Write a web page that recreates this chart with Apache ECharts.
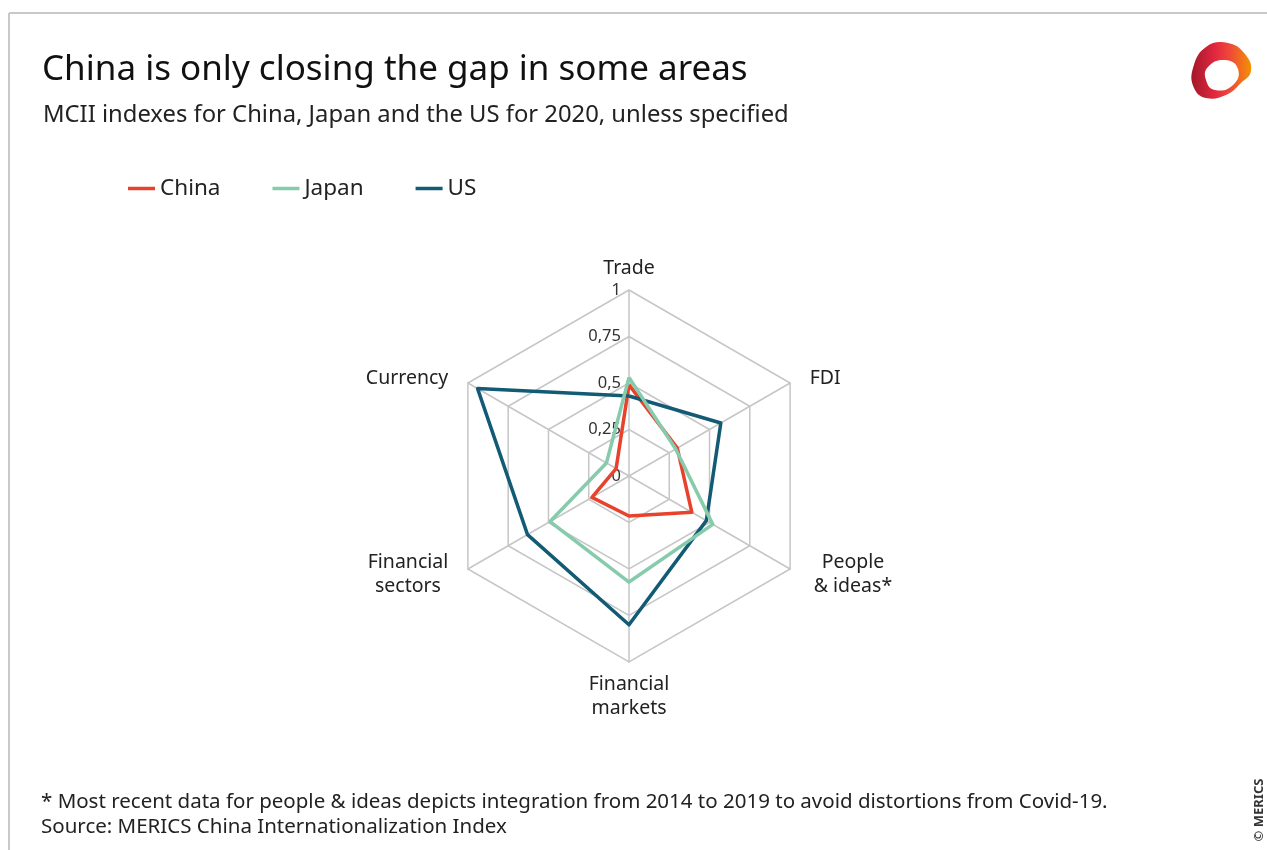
<!DOCTYPE html>
<html>
<head>
<meta charset="utf-8">
<script src="https://cdn.jsdelivr.net/npm/echarts@6/dist/echarts.min.js"></script>
<style>
html,body{margin:0;padding:0;background:#fff;}
#chart{width:1267px;height:850px;}
</style>
</head>
<body>
<div id="chart"></div>
<script>
// Data
const indicatorNames = ['Trade', 'Currency', 'Financial\nsectors', 'Financial\nmarkets', 'People\n& ideas*', 'FDI'];
const seriesNames = ['China', 'Japan', 'US'];
const china = [0.49, 0.08, 0.23, 0.215, 0.39, 0.30];
const japan = [0.53, 0.14, 0.49, 0.57, 0.52, 0.29];
const us    = [0.43, 0.94, 0.63, 0.80, 0.48, 0.57];
const tickValues = [0, 0.25, 0.5, 0.75, 1];

const FONT = '"Noto Sans", "Open Sans", sans-serif';
const colors = {China: '#e8412c', Japan: '#86cbab', US: '#135a74'};
const center = [629, 476];
const R = 186;

const chart = echarts.init(document.getElementById('chart'), null, {renderer: 'canvas'});

function mkSeries(name, values, z) {
  return {
    type: 'radar',
    name: name,
    z: z,
    symbol: 'none',
    lineStyle: {color: colors[name], width: 3.5},
    itemStyle: {color: colors[name]},
    data: [{value: values, name: name}]
  };
}

// per-label style keys (text offsets only)
const nameStyleKey = {
  'Trade': 'tr', 'Currency': 'cu', 'Financial\nsectors': 'fs',
  'Financial\nmarkets': 'fm', 'People\n& ideas*': 'pi', 'FDI': 'fd'
};
const baseName = {color: '#222', fontFamily: FONT, fontSize: 19.5, lineHeight: 24};

const option = {
  backgroundColor: '#fff',
  animation: false,
  textStyle: {fontFamily: FONT},
  title: [
    {text: 'China is only closing the gap in some areas', left: 37, top: 48,
     textStyle: {fontFamily: FONT, fontSize: 35, fontWeight: 'normal', color: '#111'}},
    {text: 'MCII indexes for China, Japan and the US for 2020, unless specified', left: 38, top: 98,
     textStyle: {fontFamily: FONT, fontSize: 23.8, fontWeight: 'normal', color: '#222'}},
    {text: '* Most recent data for people & ideas depicts integration from 2014 to 2019 to avoid distortions from Covid-19.\nSource: MERICS China Internationalization Index',
     left: 36, top: 785,
     textStyle: {fontFamily: FONT, fontSize: 20.5, fontWeight: 'normal', color: '#222', lineHeight: 25}}
  ],
  legend: {
    data: seriesNames,
    left: 123, top: 172,
    icon: 'rect', itemWidth: 27, itemHeight: 3.5, itemGap: 52,
    textStyle: {fontFamily: FONT, fontSize: 22.5, color: '#222'}
  },
  radar: {
    center: center,
    radius: R,
    startAngle: 90,
    splitNumber: 4,
    shape: 'polygon',
    indicator: indicatorNames.map(n => ({name: n, min: 0, max: 1})),
    axisName: Object.assign({}, baseName, {
      formatter: function (name) {
        const k = nameStyleKey[name];
        return name.split('\n').map(l => '{' + k + '|' + l + '}').join('\n');
      },
      rich: {
        tr: Object.assign({}, baseName),
        cu: Object.assign({}, baseName, {padding: [0, 11, 0, 0]}),
        fs: Object.assign({}, baseName, {align: 'center', padding: [0, 11, 0, 0]}),
        fm: Object.assign({}, baseName, {align: 'center'}),
        pi: Object.assign({}, baseName, {align: 'center', padding: [0, 0, 0, 15]}),
        fd: Object.assign({}, baseName, {padding: [0, 0, 0, 11]})
      }
    }),
    nameGap: 10,
    axisLine: {lineStyle: {color: '#c6c6c6', width: 1.5}},
    splitLine: {lineStyle: {color: '#c6c6c6', width: 1.5}},
    splitArea: {show: false},
    axisTick: {show: false},
    axisLabel: {show: false}
  },
  polar: {center: center, radius: R},
  angleAxis: {show: false, startAngle: 90, min: 0, max: 360},
  radiusAxis: {
    min: tickValues[0], max: tickValues[tickValues.length - 1], interval: 0.25,
    axisLine: {show: false}, axisTick: {show: false}, splitLine: {show: false},
    axisLabel: {
      show: true, color: '#333', fontFamily: FONT, fontSize: 16.5,
      formatter: v => String(v).replace('.', ',')
    }
  },
  series: [mkSeries('China', china, 2), mkSeries('US', us, 3), mkSeries('Japan', japan, 4)],
  graphic: [
    {type: 'line', shape: {x1: 9, y1: 13, x2: 1267, y2: 13}, style: {stroke: '#c8c8c8', lineWidth: 2}},
    {type: 'line', shape: {x1: 9, y1: 13, x2: 9, y2: 850}, style: {stroke: '#c8c8c8', lineWidth: 2}},
    {type: 'polygon',
     shape: {points: [[1206,47],[1228,43],[1245,54],[1251,71],[1241,83],[1226,95],[1206,98],[1194,88],[1193,68]], smooth: 0.45},
     style: {fill: new echarts.graphic.LinearGradient(0, 0, 1, 0, [
       {offset: 0, color: '#a3172a'}, {offset: 0.4, color: '#e2283f'}, {offset: 0.65, color: '#ef4a3a'}, {offset: 1, color: '#f39200'}])}},
    {type: 'polygon',
     shape: {points: [[1208,67],[1225,60],[1238,69],[1233,85],[1215,90],[1206,80]], smooth: 0.5},
     style: {fill: '#fff'}},
    {type: 'text', x: 1259, y: 810, rotation: Math.PI / 2,
     style: {text: '© MERICS', fontFamily: FONT, fontSize: 13, fontWeight: 'bold', fill: '#333', align: 'center', verticalAlign: 'middle'}}
  ]
};
chart.setOption(option);
</script>
</body>
</html>
